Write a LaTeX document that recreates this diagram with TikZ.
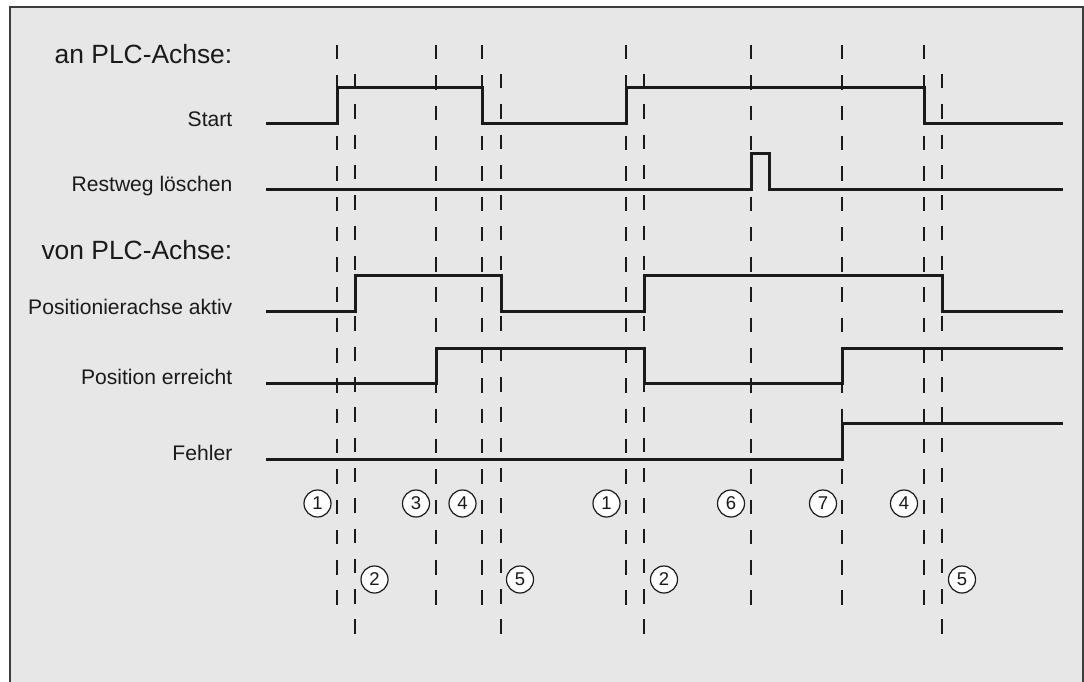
\documentclass[tikz,border=0pt]{standalone}
\usepackage{fontspec}
\setmainfont{Liberation Sans}
\definecolor{bgfill}{HTML}{E7E7E7}
\definecolor{frameline}{HTML}{3C3C3C}
\definecolor{ink}{HTML}{1A1A1A}
\begin{document}
\begin{tikzpicture}[x=1pt,y=-1pt,
  sig/.style={line width=3pt, line join=miter, draw=ink},
  tline/.style={line width=1.3pt, dash pattern=on 14.5pt off 15.8pt, draw=ink},
  lbl/.style={anchor=base east, inner sep=0pt, font=\fontsize{21.1}{25}\selectfont, text=ink},
  hdr/.style={anchor=base east, inner sep=0pt, font=\fontsize{26.4}{30}\selectfont, text=ink},
  num/.style={circle, draw=ink, line width=1.2pt, fill=white, minimum size=27pt, inner sep=0pt, font=\fontsize{18.5}{20}\selectfont, text=ink}]
\useasboundingbox (0,0) rectangle (1084,682);
\fill[white] (0,0) rectangle (1084,682);
\begin{scope}
\clip (0,0) rectangle (1084,682);
\draw[frameline, fill=bgfill, line width=2pt] (10,7) rectangle (1082.5,700);
\end{scope}

% headings and labels
\node[hdr] (h1) at (232.5,63.3) {an PLC-Achse:};
\node[hdr] (h2) at (232.5,259.3) {von PLC-Achse:};
\node[lbl] (l1) at (232.5,126.2) {Start};
\node[lbl] (l2) at (232.5,191.3) {Restweg löschen};
\node[lbl] (l3) at (232.5,314.3) {Positionierachse aktiv};
\node[lbl] (l4) at (232.5,384.5) {Position erreicht};
\node[lbl] (l5) at (232.5,460.8) {Fehler};

% dashed time markers
\foreach \x in {337,436,482,626,751,842,924}
  \draw[tline] (\x,45) -- (\x,604.5);
\foreach \x in {355,501,644,942}
  \draw[tline] (\x,74) -- (\x,633.5);

% signals
\draw[sig] (266,124) -- (337,124) -- (337,88) -- (482,88) -- (482,124) -- (626,124) -- (626,88) -- (924,88) -- (924,124) -- (1063,124);
\draw[sig] (266,189.3) -- (751,189.3) -- (751,153.3) -- (769.5,153.3) -- (769.5,189.3) -- (1063,189.3);
\draw[sig] (266,311.6) -- (355,311.6) -- (355,275.4) -- (501,275.4) -- (501,311.6) -- (644,311.6) -- (644,275.4) -- (942,275.4) -- (942,311.6) -- (1063,311.6);
\draw[sig] (266,383.4) -- (436,383.4) -- (436,348) -- (644,348) -- (644,383.4) -- (842,383.4) -- (842,348) -- (1063,348);
\draw[sig] (266,459) -- (842,459) -- (842,423.3) -- (1063,423.3);

% circled numbers
\node[num] (n1a) at (317.5,503.5) {1};
\node[num] (n3) at (416,503.5) {3};
\node[num] (n4a) at (462.5,503.5) {4};
\node[num] (n1b) at (606.5,503.5) {1};
\node[num] (n6) at (731,503.5) {6};
\node[num] (n7) at (823,503.5) {7};
\node[num] (n4b) at (904,503.5) {4};
\node[num] (n2a) at (374.5,579.5) {2};
\node[num] (n5a) at (520,579.5) {5};
\node[num] (n2b) at (664,579.5) {2};
\node[num] (n5b) at (962,579.5) {5};
\end{tikzpicture}
\end{document}
